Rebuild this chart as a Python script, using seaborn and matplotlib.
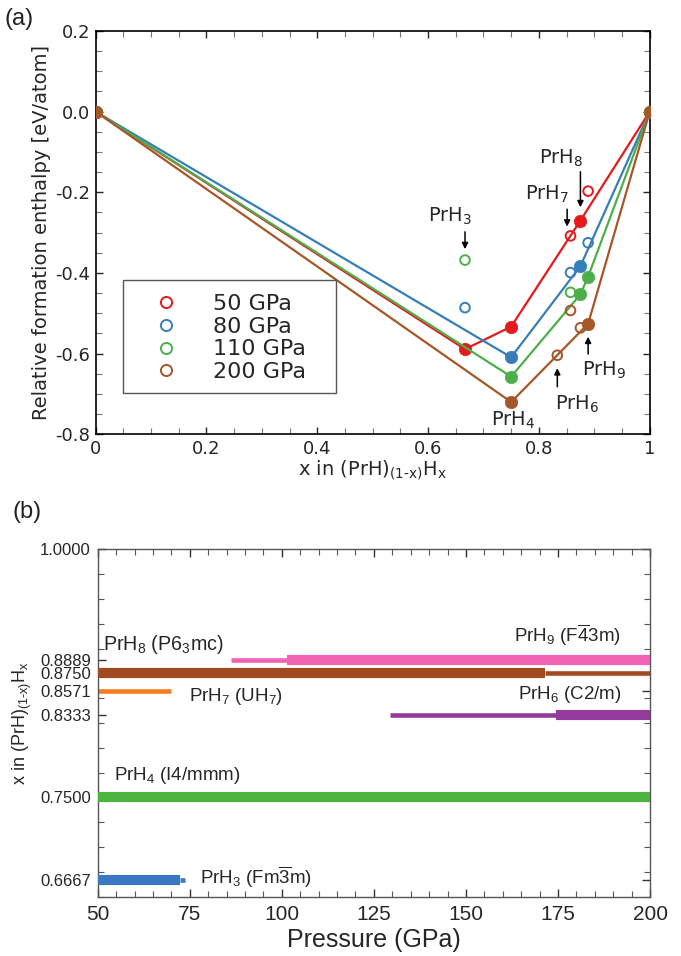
import matplotlib
matplotlib.use("Agg")
import matplotlib.pyplot as plt
import seaborn as sns
import numpy as np
from matplotlib.lines import Line2D
from matplotlib.patches import Rectangle
from matplotlib.ticker import MultipleLocator, FixedLocator

# ---- panel (a): convex hull data ----
x_comp = [0.0, 0.6667, 0.75, 0.8333, 0.8571, 0.875, 0.8889, 1.0]
pressures = ["50 GPa", "80 GPa", "110 GPa", "200 GPa"]
H_50 = [0.0, -0.589, -0.533, np.nan, -0.308, -0.270, -0.197, 0.0]
H_80 = [0.0, -0.486, -0.609, np.nan, -0.399, -0.383, -0.325, 0.0]
H_110 = [0.0, -0.368, -0.657, np.nan, -0.448, -0.453, -0.409, 0.0]
H_200 = [0.0, np.nan, -0.720, -0.604, -0.493, -0.536, -0.526, 0.0]
# 1 = on the hull (filled), 0 = above the hull (open)
on_hull_50 = [1, 1, 1, 0, 0, 1, 0, 1]
on_hull_80 = [1, 0, 1, 0, 0, 1, 0, 1]
on_hull_110 = [1, 0, 1, 0, 0, 1, 1, 1]
on_hull_200 = [1, 0, 1, 0, 0, 0, 1, 1]

# ---- panel (b): stability ranges ----
x_phase = [0.6667, 0.75, 0.8333, 0.8571, 0.875, 0.8889]
stable_ranges = [(50, 72.4), (50, 200), (174.4, 200), None, (50, 171.6), (101.3, 200)]
meta_ranges = [(72.4, 73.8), None, (129.3, 174.4), (50, 69.8), (171.6, 200), (86.2, 101.3)]
ytick_vals = [0.6667, 0.75, 0.8333, 0.8571, 0.875, 0.8889, 1.0]

sns.set_style("ticks")
plt.rcParams["font.family"] = ["DejaVu Sans"]
plt.rcParams["mathtext.fontset"] = "dejavusans"

HY = "\u2010"  # hyphen inside subscripts

fig = plt.figure(figsize=(6.81, 9.56), dpi=100)
ax1 = fig.add_axes([0.1405, 0.5457, 0.8135, 0.4219])
ax2 = fig.add_axes([0.1435, 0.0620, 0.811, 0.3634])

pal = sns.color_palette("Set1")
colors = [pal[0], pal[1], pal[2], pal[6]]
all_H = [H_50, H_80, H_110, H_200]
all_flags = [on_hull_50, on_hull_80, on_hull_110, on_hull_200]

order = [3, 2, 1, 0]  # draw red last
for i in order:
    H = np.array(all_H[i], dtype=float)
    fl = np.array(all_flags[i], dtype=bool)
    xs = np.array(x_comp)
    ok = ~np.isnan(H)
    c = colors[i]
    sns.lineplot(x=xs[fl & ok], y=H[fl & ok], color=c, lw=1.6, ax=ax1,
                 sort=False, estimator=None, zorder=2 + i)
    sns.scatterplot(x=xs[fl & ok], y=H[fl & ok], color=c, s=80, edgecolor=c,
                    linewidth=0.5, ax=ax1, zorder=3 + i)
    sns.scatterplot(x=xs[~fl & ok], y=H[~fl & ok], color=c, facecolor="none",
                    edgecolor=c, s=48, linewidth=1.4, ax=ax1, zorder=3 + i)

ax1.set_xlim(0, 1)
ax1.set_ylim(-0.8, 0.2)
ax1.xaxis.set_major_locator(FixedLocator([0, 0.2, 0.4, 0.6, 0.8, 1.0]))
ax1.set_xticklabels(["0", "0.2", "0.4", "0.6", "0.8", "1"])
ax1.yaxis.set_major_locator(MultipleLocator(0.2))
ax1.yaxis.set_major_formatter(matplotlib.ticker.FormatStrFormatter("%.1f"))
ax1.xaxis.set_minor_locator(MultipleLocator(0.05))
ax1.yaxis.set_minor_locator(MultipleLocator(0.05))
ax1.tick_params(which="both", direction="in", top=True, right=True, labelsize=13, pad=4)
ax1.tick_params(which="major", length=5, width=1)
ax1.tick_params(which="minor", length=4, width=0.8, color="#777777")
for sp in ax1.spines.values():
    sp.set_linewidth(1.2)
    sp.set_color("black")
ax1.set_xlabel("x in (PrH)$_\\mathregular{(1" + HY + "x)}$H$_\\mathregular{x}$",
               fontsize=14, labelpad=1)
ax1.set_ylabel("Relative formation enthalpy [eV/atom]", fontsize=14, labelpad=3)

# annotations
lab_kw = dict(fontsize=14, ha="center", va="center")
arr_kw = dict(arrowstyle="-|>", color="black", lw=1.1, mutation_scale=9, shrinkA=0, shrinkB=0)
ax1.text(0.640, -0.259, "PrH$_3$", **lab_kw)
ax1.annotate("", xy=(0.6667, -0.341), xytext=(0.6667, -0.298), arrowprops=arr_kw)
ax1.text(0.8396, -0.116, "PrH$_8$", **lab_kw)
ax1.annotate("", xy=(0.875, -0.237), xytext=(0.875, -0.149), arrowprops=arr_kw)
ax1.text(0.8155, -0.204, "PrH$_7$", **lab_kw)
ax1.annotate("", xy=(0.851, -0.285), xytext=(0.851, -0.242), arrowprops=arr_kw)
ax1.text(0.918, -0.642, "PrH$_9$", **lab_kw)
ax1.annotate("", xy=(0.8889, -0.558), xytext=(0.8889, -0.601), arrowprops=arr_kw)
ax1.text(0.869, -0.725, "PrH$_6$", **lab_kw)
ax1.annotate("", xy=(0.8333, -0.636), xytext=(0.8333, -0.682), arrowprops=arr_kw)
ax1.text(0.7545, -0.765, "PrH$_4$", **lab_kw)

# legend
handles = [Line2D([], [], marker="o", ls="none", mfc="none", mec=colors[i], ms=8, mew=1.4)
           for i in range(4)]
ax1.add_patch(Rectangle((0.0493, 0.1017), 0.3846, 0.2809, transform=ax1.transAxes,
                        fill=False, edgecolor="#555555", lw=1.0, zorder=10))
ax1.legend(handles, pressures, loc="upper left", bbox_to_anchor=(0.1097, 0.3475),
           frameon=False, borderpad=0, borderaxespad=0, fontsize=16,
           handlelength=0.9, handletextpad=1.64, labelspacing=0.12)

# ---- panel (b) ----
bcolors = ["#3b78c3", "#4cb340", "#933a9c", "#f97c1c", "#a14a22", "#f262b4"]
for y, st, mt, c in zip(x_phase, stable_ranges, meta_ranges, bcolors):
    if mt is not None:
        ax2.hlines(y, mt[0], mt[1], color=c, lw=3.3, capstyle="butt", zorder=2)
    if st is not None:
        ax2.hlines(y, st[0], st[1], color=c, lw=7.3, capstyle="butt", zorder=3)

ax2.set_xlim(50, 200)
ax2.set_ylim(0.65, 1.0)
ax2.xaxis.set_major_locator(MultipleLocator(25))
ax2.xaxis.set_minor_locator(MultipleLocator(5))
ax2.yaxis.set_major_locator(FixedLocator(ytick_vals))
ax2.set_yticklabels([f"{v:.4f}" for v in ytick_vals])
ax2.yaxis.set_minor_locator(MultipleLocator(0.025))
ax2.tick_params(which="both", direction="in", top=True, right=True)
ax2.tick_params(which="major", length=6, width=1, color="#333333")
ax2.tick_params(which="minor", length=4, width=0.8, color="#555555")
ax2.tick_params(axis="x", labelsize=15, pad=6)
ax2.tick_params(axis="y", labelsize=12, pad=5)
for lab in ax2.get_xticklabels() + ax2.get_yticklabels():
    lab.set_family("Liberation Sans")
for sp in ax2.spines.values():
    sp.set_linewidth(1.0)
    sp.set_color("#555555")
ax2.set_xlabel("Pressure (GPa)", fontsize=18, family="Liberation Sans", labelpad=3)
ax2.set_ylabel("x in (PrH)$_\\mathregular{(1" + HY + "x)}$H$_\\mathregular{x}$", fontsize=13,
               family="Liberation Sans", labelpad=4)

blab = dict(fontsize=13.5, family="Liberation Sans", va="center")
ax2.text(51.5, 0.9045, "PrH$_\\mathregular{8}$ (P6$_\\mathregular{3}$mc)", ha="left",
         **{**blab, "fontsize": 14.2})
ax2.text(192.2, 0.9136, "PrH$_\\mathregular{9}$ ($\\mathregular{F\\overline{4}}$3m)", ha="right", **blab)
ax2.text(74.9, 0.8514, "PrH$_\\mathregular{7}$ (UH$_\\mathregular{7}$)", ha="left", **blab)
ax2.text(192.2, 0.8538, "PrH$_\\mathregular{6}$ (C2/m)", ha="right", **blab)
ax2.text(54.4, 0.7722, "PrH$_\\mathregular{4}$ (I4/mmm)", ha="left", **blab)
ax2.text(77.9, 0.6700, "PrH$_\\mathregular{3}$ (Fm$\\mathregular{\\overline{3}}$m)", ha="left", **blab)

fig.text(19 / 681, 1 - 19 / 956, "(a)", fontsize=17, family="Liberation Sans",
         ha="center", va="center", color="#222222")
fig.text(27 / 681, 1 - 512 / 956, "(b)", fontsize=17, family="Liberation Sans",
         ha="center", va="center", color="#222222")

fig.savefig("out.png", dpi=100)
